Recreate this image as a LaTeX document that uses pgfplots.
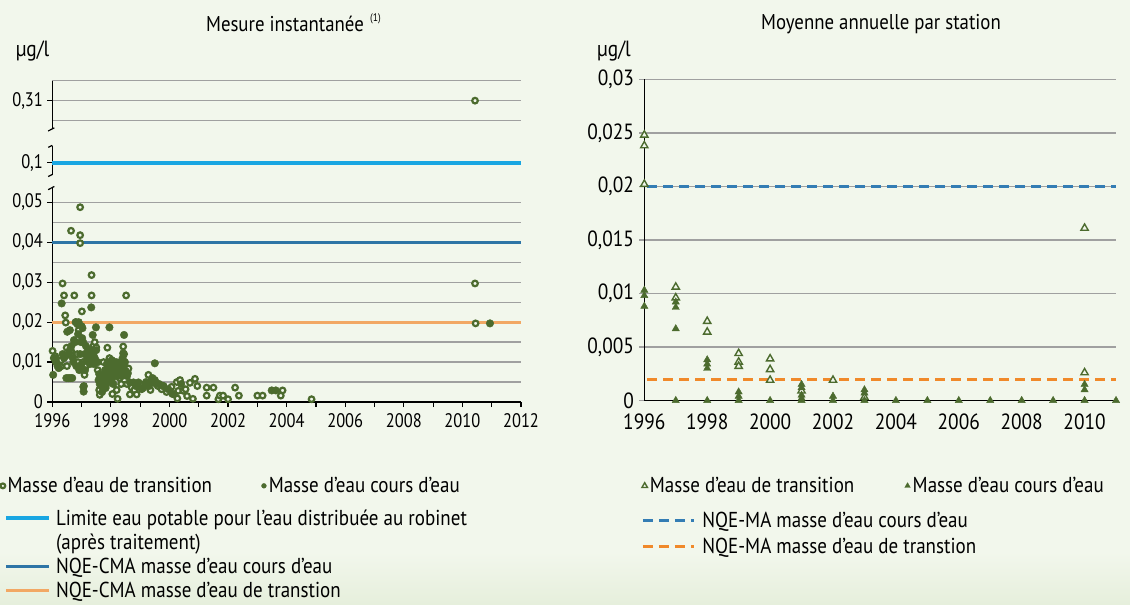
\documentclass[border=0pt]{standalone}
\usepackage{fontspec}
\setmainfont{PT Sans}[FakeStretch=0.88]
\newfontfamily\tickfont{PT Sans}[FakeStretch=0.84]
\usepackage{pgfplots}
\pgfplotsset{compat=1.18}

\definecolor{bg}{RGB}{242,247,236}
\definecolor{bgdark}{RGB}{230,239,220}
\definecolor{mk}{RGB}{76,107,46}
\definecolor{lblue}{RGB}{25,166,226}
\definecolor{dblue}{RGB}{46,117,166}
\definecolor{lorange}{RGB}{242,168,100}
\definecolor{dashblue}{RGB}{52,125,180}
\definecolor{dashorange}{RGB}{240,137,42}
\definecolor{gridc}{RGB}{160,160,160}

% open circles: masse d'eau de transition (y in broken-axis units: 0.31 drawn at 0.0755)
\pgfplotstableread{
x y
1996.01 0.0128
1996.05 0.0110
1996.10 0.0115
1996.15 0.0105
1996.20 0.0101
1996.25 0.0095
1996.29 0.0089
1996.30 0.0105
1996.35 0.0297
1996.40 0.0267
1996.44 0.0217
1996.46 0.0199
1996.49 0.0136
1996.50 0.0090
1996.55 0.0120
1996.60 0.0131
1996.64 0.0429
1996.66 0.0125
1996.70 0.0115
1996.75 0.0267
1996.80 0.0200
1996.85 0.0120
1996.88 0.0100
1996.90 0.0180
1996.95 0.0488
1996.95 0.0418
1996.95 0.0398
1997.00 0.0190
1997.01 0.0227
1997.05 0.0100
1997.08 0.0040
1997.10 0.0068
1997.15 0.0090
1997.20 0.0110
1997.25 0.0125
1997.34 0.0318
1997.34 0.0267
1997.40 0.0140
1997.45 0.0150
1997.50 0.0137
1997.55 0.0080
1997.60 0.0030
1997.62 0.0018
1997.65 0.0060
1997.70 0.0045
1997.75 0.0100
1997.88 0.0136
1997.95 0.0110
1998.05 0.0020
1998.10 0.0085
1998.20 0.0030
1998.23 0.0008
1998.30 0.0060
1998.35 0.0045
1998.42 0.0139
1998.45 0.0120
1998.52 0.0267
1998.55 0.0045
1998.60 0.0084
1998.65 0.0019
1998.71 0.0036
1998.80 0.0030
1998.88 0.0019
1999.00 0.0045
1999.05 0.0032
1999.16 0.0040
1999.28 0.0068
1999.35 0.0030
1999.45 0.0050
1999.60 0.0040
1999.73 0.0032
1999.80 0.0040
1999.90 0.0025
2000.07 0.0038
2000.10 0.0020
2000.25 0.0050
2000.27 0.0009
2000.30 0.0028
2000.36 0.0055
2000.47 0.0028
2000.55 0.0032
2000.60 0.0015
2000.70 0.0048
2000.80 0.0008
2000.87 0.0058
2000.95 0.0040
2001.27 0.0036
2001.27 0.0016
2001.50 0.0036
2001.67 0.0007
2001.72 0.0016
2001.83 0.0016
2002.00 0.0007
2002.24 0.0036
2002.37 0.0016
2003.00 0.0016
2003.18 0.0016
2003.80 0.0016
2003.86 0.0029
2004.85 0.0007
2010.43 0.0755
2010.43 0.0297
2010.45 0.0197
}\instTrans

% filled circles: masse d'eau cours d'eau
\pgfplotstableread{
x y
1996.03 0.0068
1996.08 0.0110
1996.12 0.0100
1996.18 0.0090
1996.22 0.0085
1996.32 0.0247
1996.35 0.0120
1996.40 0.0110
1996.45 0.0115
1996.48 0.0060
1996.51 0.0176
1996.55 0.0060
1996.58 0.0125
1996.60 0.0180
1996.62 0.0060
1996.65 0.0140
1996.68 0.0060
1996.70 0.0110
1996.72 0.0100
1996.74 0.0155
1996.78 0.0150
1996.80 0.0200
1996.82 0.0090
1996.86 0.0195
1996.88 0.0170
1996.90 0.0200
1996.92 0.0080
1996.95 0.0120
1996.98 0.0150
1997.00 0.0095
1997.02 0.0160
1997.03 0.0185
1997.06 0.0149
1997.06 0.0038
1997.07 0.0026
1997.10 0.0120
1997.12 0.0080
1997.15 0.0140
1997.18 0.0105
1997.22 0.0130
1997.25 0.0105
1997.28 0.0095
1997.30 0.0115
1997.33 0.0237
1997.35 0.0130
1997.38 0.0168
1997.40 0.0120
1997.42 0.0095
1997.45 0.0110
1997.49 0.0187
1997.50 0.0130
1997.55 0.0100
1997.58 0.0055
1997.60 0.0070
1997.62 0.0045
1997.66 0.0060
1997.68 0.0040
1997.70 0.0025
1997.72 0.0055
1997.75 0.0065
1997.78 0.0050
1997.80 0.0080
1997.82 0.0035
1997.85 0.0045
1997.86 0.0095
1997.90 0.0080
1997.92 0.0065
1997.95 0.0187
1997.96 0.0100
1997.98 0.0055
1998.00 0.0070
1998.02 0.0090
1998.03 0.0105
1998.05 0.0060
1998.08 0.0045
1998.10 0.0070
1998.12 0.0095
1998.15 0.0075
1998.18 0.0100
1998.20 0.0080
1998.22 0.0065
1998.25 0.0095
1998.28 0.0085
1998.32 0.0100
1998.34 0.0075
1998.36 0.0090
1998.38 0.0065
1998.40 0.0110
1998.42 0.0122
1998.44 0.0090
1998.45 0.0168
1998.48 0.0100
1998.50 0.0078
1998.55 0.0065
1998.58 0.0072
1998.65 0.0049
1998.77 0.0049
1998.85 0.0040
1998.94 0.0049
1999.10 0.0035
1999.20 0.0050
1999.30 0.0040
1999.39 0.0055
1999.42 0.0060
1999.50 0.0055
1999.50 0.0097
1999.55 0.0045
1999.65 0.0045
1999.78 0.0040
1999.96 0.0032
2000.15 0.0020
2000.40 0.0045
2003.49 0.0029
2003.63 0.0029
2010.94 0.0197
}\instCours

% annual means, transition (open triangles)
\pgfplotstableread{
x y
1996 0.0248
1996 0.0238
1996 0.0202
1997 0.0106
1997 0.0096
1998 0.0074
1998 0.0064
1999 0.0044
1999 0.0036
1999 0.0032
2000 0.0039
2000 0.0029
2000 0.0019
2001 0.0009
2002 0.0019
2003 0.0003
2010 0.0161
2010 0.0026
}\moyTrans

% annual means, cours d'eau (filled triangles)
\pgfplotstableread{
x y
1996 0.0103
1996 0.0098
1996 0.0088
1997 0.0092
1997 0.0087
1997 0.0067
1997 0
1998 0.0038
1998 0.0034
1998 0.0030
1998 0
1999 0.0008
1999 0.0004
1999 0
2000 0
2001 0.0015
2001 0.0012
2001 0.0005
2001 0.0002
2001 0
2002 0.0004
2002 0
2003 0.0010
2003 0.0007
2003 0
2004 0
2005 0
2006 0
2007 0
2008 0
2009 0
2010 0.0015
2010 0.0010
2010 0
2011 0
}\moyCours

\begin{document}
\begin{tikzpicture}[x=1bp,y=1bp]
\fill[bg] (0,0) rectangle (565,302);
\shade[top color=bg, bottom color=bgdark] (0,0) rectangle (565,26);
\useasboundingbox (0,0) rectangle (565,302);

% titles and units
\node[font=\fontsize{10.7bp}{12bp}\selectfont] at (142.5,290) {Mesure instantanée};
\node[font=\fontsize{5.5bp}{6bp}\selectfont, anchor=west] at (181.5,292.5) {(1)};
\node[font=\fontsize{10.7bp}{12bp}\selectfont] at (440.5,290) {Moyenne annuelle par station};
\node[font=\fontsize{11bp}{12bp}\selectfont] at (16.3,276.5) {µg/l};
\node[font=\fontsize{11bp}{12bp}\selectfont] at (307,276.5) {µg/l};

% ---------------- left axis -----------------
\begin{axis}[
  at={(26.15bp,101bp)}, anchor=south west,
  scale only axis, width=234.35bp, height=160.65bp,
  xmin=1996, xmax=2012, ymin=0, ymax=0.0805,
  axis x line=bottom, axis y line=left,
  axis line style={-},
  y axis line style={draw=none},
  x axis line style={black, line width=0.8bp},
  xtick={1996,1998,2000,2002,2004,2006,2008,2010,2012},
  xticklabels={1996,1998,2000,2002,2004,2006,2008,2010,2012},
  minor xtick={1997,1999,2001,2003,2005,2007,2009,2011},
  ytick={0,0.01,0.02,0.03,0.04,0.05,0.06,0.0755},
  yticklabels={0,{0,01},{0,02},{0,03},{0,04},{0,05},{0,1},{0,31}},
  scaled y ticks=false, scaled x ticks=false,
  tick align=outside, major tick length=2.5bp, minor tick length=2.5bp,
  tick style={black, line width=0.6bp},
  ymajorgrids, major grid style={gridc, line width=0.7bp},
  ticklabel style={font=\tickfont\fontsize{9.8bp}{11bp}\selectfont},
  yticklabel style={inner sep=2bp},
  xticklabel style={inner sep=3bp},
  clip=false,
  legend image code/.code={\draw[#1] plot coordinates {(0bp,3.5bp)};},
  legend image post style={mark size=1.2bp},
  legend style={at={(-0.1115,-0.2636)}, anchor=west, draw=none, fill=none,
    inner sep=0pt, legend columns=2,
    font=\fontsize{10.8bp}{12bp}\selectfont,
    cells={anchor=base west},
    nodes={inner sep=1.2bp},
    /tikz/every even column/.append style={column sep=23.5bp}},
]
% extra grid lines (0.005 steps, upper segment)
\draw[gridc, line width=0.7bp] (axis cs:1996,0.005) -- (axis cs:2012,0.005);
\draw[gridc, line width=0.7bp] (axis cs:1996,0.015) -- (axis cs:2012,0.015);
\draw[gridc, line width=0.7bp] (axis cs:1996,0.025) -- (axis cs:2012,0.025);
\draw[gridc, line width=0.7bp] (axis cs:1996,0.035) -- (axis cs:2012,0.035);
\draw[gridc, line width=0.7bp] (axis cs:1996,0.045) -- (axis cs:2012,0.045);
\draw[gridc, line width=0.7bp] (axis cs:1996,0.0705) -- (axis cs:2012,0.0705);
\draw[gridc, line width=0.7bp] (axis cs:1996,0.0805) -- (axis cs:2012,0.0805);
% broken y axis
\draw[black, line width=0.8bp] (axis cs:1996,0.0805) -- (axis cs:1996,0.0683);
\draw[black, line width=0.8bp] (axis cs:1996,0.0642) -- (axis cs:1996,0.0569);
\draw[black, line width=0.8bp] (axis cs:1996,0.0536) -- (axis cs:1996,0);
\draw[black, line width=0.6bp] (axis cs:1995.86,0.0679) -- (axis cs:1996.07,0.0687);
\draw[black, line width=0.6bp] (axis cs:1995.86,0.0638) -- (axis cs:1996.00,0.0643);
\draw[black, line width=0.6bp] (axis cs:1995.86,0.0565) -- (axis cs:1996.00,0.0570);
\draw[black, line width=0.6bp] (axis cs:1995.86,0.0532) -- (axis cs:1996.07,0.0540);
% threshold lines
\addplot[lblue, line width=2bp, forget plot] coordinates {(1996,0.06) (2012,0.06)};
\addplot[dblue, line width=1.6bp, forget plot] coordinates {(1996,0.04) (2012,0.04)};
\addplot[lorange, line width=1.6bp, forget plot] coordinates {(1996,0.02) (2012,0.02)};
% measurements
\addplot[only marks, mark=*, mark size=1.4bp,
  mark options={draw=mk, fill=bg, line width=1.1bp}] table {\instTrans};
\addlegendentry{Masse d'eau de transition}
\addplot[only marks, mark=*, mark size=1.9bp,
  mark options={draw=mk, fill=mk, line width=0.2bp}] table {\instCours};
\addlegendentry{Masse d'eau cours d'eau}
\end{axis}

% left legend for lines
\begin{axis}[
  at={(26.15bp,101bp)}, anchor=south west,
  scale only axis, width=234.35bp, height=160.65bp,
  xmin=0, xmax=1, ymin=0, ymax=1, hide axis,
  legend image code/.code={\draw[#1] (0bp,3.5bp) -- (21.5bp,3.5bp);},
  legend style={at={(-0.1039,-0.3268)}, anchor=north west, draw=none, fill=none,
    inner sep=0pt, legend columns=1,
    font=\fontsize{10.8bp}{12bp}\selectfont,
    cells={anchor=base west},
    nodes={inner sep=0.5bp, text height=8.5bp, text depth=2.5bp},
    /tikz/every odd column/.append style={column sep=2bp},
    row sep=0bp},
]
\addlegendimage{lblue, line width=2bp}
\addlegendentry{Limite eau potable pour l'eau distribuée au robinet}
\addlegendimage{empty legend}
\addlegendentry{(après traitement)}
\addlegendimage{dblue, line width=1.6bp}
\addlegendentry{NQE-CMA masse d'eau cours d'eau}
\addlegendimage{lorange, line width=1.6bp}
\addlegendentry{NQE-CMA masse d'eau de transtion}
\end{axis}

% ---------------- right axis -----------------
\begin{axis}[
  at={(322.15bp,101.75bp)}, anchor=south west,
  scale only axis, width=235.85bp, height=160.6bp,
  xmin=1996, xmax=2011, ymin=0, ymax=0.03,
  axis x line=bottom, axis y line=left,
  axis line style={-, black, line width=0.8bp},
  xtick={1996,1998,2000,2002,2004,2006,2008,2010},
  xticklabels={1996,1998,2000,2002,2004,2006,2008,2010},
  xtick style={draw=none},
  ytick={0,0.005,0.01,0.015,0.02,0.025,0.03},
  yticklabels={0,{0,005},{0,01},{0,015},{0,02},{0,025},{0,03}},
  scaled y ticks=false, scaled x ticks=false,
  tick align=outside, major tick length=2.5bp,
  ytick style={gridc, line width=0.7bp},
  ymajorgrids, major grid style={gridc, line width=0.7bp},
  ticklabel style={font=\fontsize{11bp}{12bp}\selectfont},
  yticklabel style={inner sep=2.5bp},
  xticklabel style={inner sep=4bp},
  clip=false,
  legend image code/.code={\draw[#1] plot coordinates {(0bp,3.5bp)};},
  legend image post style={mark size=1.6bp},
  legend style={at={(-0.0059,-0.2684)}, anchor=west, draw=none, fill=none,
    inner sep=0pt, legend columns=2,
    font=\fontsize{10.8bp}{12bp}\selectfont,
    cells={anchor=base west},
    nodes={inner sep=1.2bp},
    /tikz/every even column/.append style={column sep=24bp}},
]
\addplot[dashblue, line width=1.5bp, dash pattern=on 5bp off 3bp, forget plot]
  coordinates {(1996.1,0.02) (2011,0.02)};
\addplot[dashorange, line width=1.5bp, dash pattern=on 5bp off 3bp, forget plot]
  coordinates {(1996.1,0.002) (2011,0.002)};
\addplot[only marks, mark=triangle*, mark size=2.1bp,
  mark options={draw=mk, fill=bg, line width=0.7bp}] table {\moyTrans};
\addlegendentry{Masse d'eau de transition}
\addplot[only marks, mark=triangle*, mark size=2.1bp,
  mark options={draw=mk, fill=mk, line width=0.2bp}] table {\moyCours};
\addlegendentry{Masse d'eau cours d'eau}
\end{axis}

% right legend for dashed lines
\begin{axis}[
  at={(322.15bp,101.75bp)}, anchor=south west,
  scale only axis, width=235.85bp, height=160.6bp,
  xmin=0, xmax=1, ymin=0, ymax=1, hide axis,
  legend image code/.code={\draw[#1] (0bp,3.5bp) -- (25.5bp,3.5bp);},
  legend style={at={(-0.007,-0.3347)}, anchor=north west, draw=none, fill=none,
    inner sep=0pt, legend columns=1,
    font=\fontsize{10.8bp}{12bp}\selectfont,
    cells={anchor=base west},
    nodes={inner sep=1bp, text height=8.5bp, text depth=2.5bp},
    /tikz/every odd column/.append style={column sep=2.5bp},
    row sep=0.2bp},
]
\addlegendimage{dashblue, line width=1.5bp, dash pattern=on 5bp off 3bp}
\addlegendentry{NQE-MA masse d'eau cours d'eau}
\addlegendimage{dashorange, line width=1.5bp, dash pattern=on 5bp off 3bp}
\addlegendentry{NQE-MA masse d'eau de transtion}
\end{axis}
\end{tikzpicture}
\end{document}
